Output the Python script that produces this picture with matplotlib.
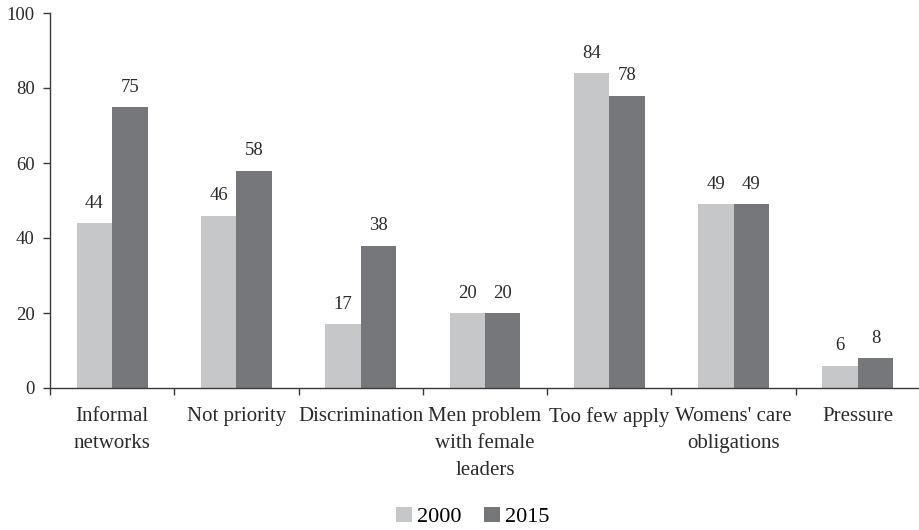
import matplotlib
matplotlib.use("Agg")
import matplotlib.pyplot as plt
import numpy as np

categories = ["Informal\nnetworks", "Not priority", "Discrimination",
              "Men problem\nwith female\nleaders", "Too few apply",
              "Womens' care\nobligations", "Pressure"]
series_names = ["2000", "2015"]
values_2000 = [44, 46, 17, 20, 84, 49, 6]
values_2015 = [75, 58, 38, 20, 78, 49, 8]
y_ticks = [0, 20, 40, 60, 80, 100]

plt.rcParams['font.family'] = ['Liberation Serif', 'DejaVu Serif']

fig = plt.figure(figsize=(9.2, 5.3), dpi=100)
ax = fig.add_axes([50 / 920, 1 - 388 / 530, 870 / 920, 375 / 530])

colors = ["#c6c7c9", "#76777b"]
axis_color = "#3a3a3a"
text_color = "#2b2b2b"
x = np.arange(len(categories))
w = 0.285

for i, (vals, name) in enumerate(zip([values_2000, values_2015], series_names)):
    offs = (i - 0.5) * w
    ax.bar(x + offs, vals, width=w, color=colors[i], label=name,
           linewidth=0, zorder=2)
    for xi, v in zip(x, vals):
        ax.text(xi + offs, v + 3.0, f"{v}", ha="center", va="bottom",
                fontsize=13.5, color=text_color)

ax.set_xlim(-0.5, len(categories) - 0.5)
ax.set_ylim(0, 100)
ax.set_yticks(y_ticks)
ax.set_yticklabels([str(t) for t in y_ticks], fontsize=13.5, color=text_color)

for s in ["top", "right"]:
    ax.spines[s].set_visible(False)
for s in ["left", "bottom"]:
    ax.spines[s].set_color(axis_color)
    ax.spines[s].set_linewidth(1.0)

ax.tick_params(axis="y", direction="out", length=5, width=1.0,
               color=axis_color, pad=6)

# category boundaries as major ticks, names as minor tick labels
ax.set_xticks(np.arange(len(categories) + 1) - 0.5)
ax.set_xticklabels([])
ax.tick_params(axis="x", which="major", direction="out", length=5,
               width=1.0, color=axis_color)
ax.set_xticks(x, minor=True)
ax.set_xticklabels(categories, minor=True, fontsize=15, color=text_color,
                   linespacing=1.55)
ax.tick_params(axis="x", which="minor", length=0, pad=14)

fig.legend(loc="center", bbox_to_anchor=(473 / 920, 1 - 517 / 530), ncol=2,
           frameon=False, fontsize=16, handlelength=0.7, handleheight=0.7,
           handletextpad=0.25, columnspacing=1.0)

fig.savefig("out.png", dpi=100)
